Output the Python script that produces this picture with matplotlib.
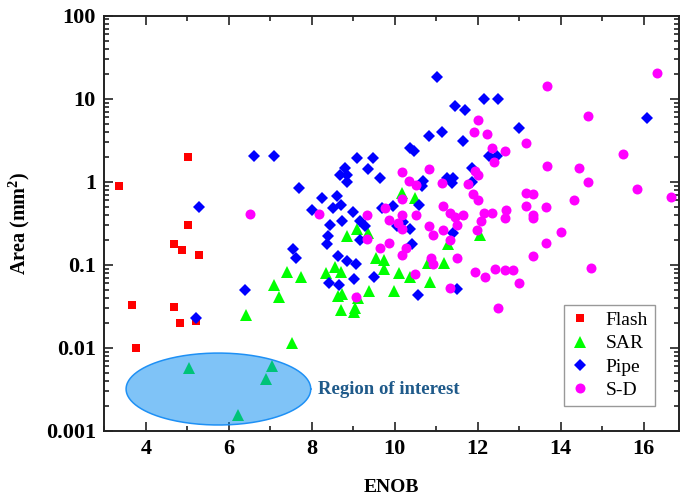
import numpy as np
import matplotlib
matplotlib.use("Agg")
import matplotlib.pyplot as plt
from matplotlib.ticker import FixedLocator, FixedFormatter, LogLocator, NullFormatter

plt.rcParams['font.family'] = ['Liberation Serif', 'DejaVu Serif']
plt.rcParams['mathtext.fontset'] = 'custom'
plt.rcParams['mathtext.rm'] = 'Liberation Serif'
plt.rcParams['mathtext.bf'] = 'Liberation Serif:bold'

# ADC survey: effective number of bits vs. core area (mm^2)
flash_enob = [3.36, 5.02, 5.02, 4.67, 4.87, 5.29, 3.66, 4.67, 4.83, 5.20, 3.77]
flash_area = [0.88, 2.0, 0.30, 0.18, 0.15, 0.13, 0.033, 0.031, 0.020, 0.021, 0.010]

sar_enob = [5.03, 7.05, 6.89, 6.23, 6.42, 7.09, 7.20, 7.40, 7.73, 7.52,
            8.34, 8.56, 8.71, 8.64, 8.72, 8.71, 8.84, 9.04, 9.02, 9.08,
            9.36, 9.39, 9.55, 9.73, 9.74, 9.99, 10.11, 10.37, 10.85, 10.81,
            11.19, 10.17, 10.49, 11.29, 12.06, 9.12]
sar_area = [0.0058, 0.0060, 0.0042, 0.00156, 0.025, 0.058, 0.041, 0.082, 0.072, 0.0116,
            0.079, 0.095, 0.082, 0.042, 0.044, 0.029, 0.22, 0.030, 0.027, 0.27,
            0.243, 0.049, 0.122, 0.114, 0.090, 0.048, 0.080, 0.071, 0.063, 0.104,
            0.104, 0.74, 0.64, 0.176, 0.23, 0.040]

pipe_enob = [5.29, 5.20, 6.40, 6.61, 7.09, 7.55, 7.62, 7.69, 8.01, 8.24,
             8.62, 8.52, 8.70, 8.44, 8.74, 8.40, 8.36, 8.68, 8.86, 8.84,
             8.79, 9.10, 9.48, 9.36, 9.65, 9.00, 9.16, 9.28, 9.16, 9.69,
             9.95, 10.59, 10.05, 10.21, 10.37, 10.41, 10.37, 10.47, 10.69, 10.65,
             8.64, 8.84, 9.07, 9.51, 9.02, 8.42, 8.66, 10.55, 11.01, 11.45,
             11.70, 12.16, 12.50, 13.0, 16.09, 10.83, 11.14, 11.65, 12.28, 12.46,
             11.86, 11.25, 11.41, 11.37, 11.86, 11.40, 11.51]
pipe_area = [0.50, 0.023, 0.050, 2.03, 2.03, 0.155, 0.122, 0.85, 0.46, 0.64,
             0.68, 0.49, 0.52, 0.30, 0.34, 0.22, 0.18, 1.22, 1.22, 1.0,
             1.47, 1.91, 1.94, 1.41, 1.12, 0.43, 0.336, 0.29, 0.20, 0.49,
             0.51, 0.53, 0.29, 0.33, 0.27, 0.176, 2.57, 2.33, 1.02, 0.885,
             0.127, 0.111, 0.103, 0.071, 0.067, 0.060, 0.058, 0.043, 18.1, 8.1,
             7.4, 10.0, 10.0, 4.5, 5.9, 3.6, 4.0, 3.08, 2.03, 2.03,
             1.47, 1.12, 1.12, 0.97, 0.99, 0.243, 0.051]

sd_enob = [6.51, 8.18, 10.17, 10.83, 10.35, 10.51, 10.17, 9.77, 9.34, 9.85,
           10.17, 10.51, 10.09, 10.17, 10.83, 10.93, 9.34, 9.65, 9.85, 10.27,
           10.17, 10.87, 10.92, 10.49, 9.07, 12.34, 12.66, 13.16, 12.39, 13.66,
           14.45, 11.93, 12.01, 11.13, 11.77, 11.88, 12.0, 13.16, 13.34, 14.32,
           11.16, 13.16, 13.65, 12.68, 12.66, 11.32, 11.45, 11.65, 12.15, 12.34,
           12.07, 11.51, 13.33, 13.33, 11.16, 11.99, 11.33, 14.0, 13.65, 13.33,
           11.49, 11.93, 12.18, 12.42, 12.66, 12.86, 12.99, 11.33, 12.50, 16.33,
           13.66, 14.65, 12.0, 11.92, 12.23, 15.49, 14.65, 15.83, 16.65, 14.72]
sd_area = [0.41, 0.41, 1.32, 1.43, 1.02, 0.91, 0.62, 0.49, 0.40, 0.345,
           0.40, 0.40, 0.32, 0.27, 0.29, 0.23, 0.206, 0.16, 0.185, 0.16,
           0.133, 0.122, 0.103, 0.078, 0.041, 2.57, 2.38, 2.95, 1.72, 1.54,
           1.47, 1.34, 1.22, 0.97, 0.93, 0.72, 0.61, 0.74, 0.72, 0.61,
           0.51, 0.51, 0.50, 0.46, 0.37, 0.42, 0.38, 0.40, 0.42, 0.42,
           0.336, 0.30, 0.40, 0.37, 0.26, 0.26, 0.20, 0.25, 0.185, 0.127,
           0.122, 0.082, 0.072, 0.090, 0.086, 0.086, 0.061, 0.052, 0.030, 20.5,
           14.1, 6.2, 5.6, 4.0, 3.8, 2.19, 1.0, 0.83, 0.66, 0.091]

series_labels = ["Flash", "SAR", "Pipe", "S-D"]

y_ticks = [0.001, 0.01, 0.1, 1, 10, 100]
y_tick_labels = ["0.001", "0.01", "0.1", "1", "10", "100"]
x_ticks = [4, 6, 8, 10, 12, 14, 16]
x_tick_labels = ["4", "6", "8", "10", "12", "14", "16"]

# highlighted low-area region (centre ENOB, centre area, half-width in ENOB, half-height in decades)
roi_enob, roi_area, roi_half_w, roi_half_dec = 5.75, 0.0032, 2.225, 0.433
roi_text = "Region of interest"

fig = plt.figure(figsize=(6.8, 4.99), dpi=100)
ax = fig.add_axes([0.1534, 0.1363, 0.8451, 0.8323])

ax.plot(flash_enob, flash_area, 's', color='#ff0000', ms=6.0, mew=0, label=series_labels[0], zorder=3)
ax.plot(sar_enob, sar_area, '^', color='#00ff00', ms=8.0, mew=0, label=series_labels[1], zorder=3)
ax.plot(pipe_enob, pipe_area, 'D', color='#0000ff', ms=5.8, mew=0, label=series_labels[2], zorder=3)
ax.plot(sd_enob, sd_area, 'o', color='#ff00ff', ms=7.2, mew=0, label=series_labels[3], zorder=3)

# translucent ellipse, uniform in ENOB and in log(area)
t = np.linspace(0, 2 * np.pi, 300)
ex = roi_enob + roi_half_w * np.cos(t)
ey = 10 ** (np.log10(roi_area) + roi_half_dec * np.sin(t))
ax.fill(ex, ey, color='#0089f1', alpha=0.5, lw=0, zorder=4)
ax.plot(ex, ey, color='#1e90f5', lw=1.1, zorder=4)
ax.text(8.15, roi_area, roi_text, color='#1f5a8a', fontsize=13.5,
        fontweight='bold', va='center', ha='left', zorder=5)

ax.set_xscale('linear')
ax.set_yscale('log')
ax.set_xlim(3, 16.85)
ax.set_ylim(0.001, 100)

ax.xaxis.set_major_locator(FixedLocator(x_ticks))
ax.xaxis.set_major_formatter(FixedFormatter(x_tick_labels))
ax.xaxis.set_minor_locator(FixedLocator([3, 5, 7, 9, 11, 13, 15]))
ax.yaxis.set_major_locator(FixedLocator(y_ticks))
ax.yaxis.set_major_formatter(FixedFormatter(y_tick_labels))
ax.yaxis.set_minor_locator(LogLocator(base=10, subs=np.arange(2, 10)))
ax.yaxis.set_minor_formatter(NullFormatter())

ax.tick_params(which='both', direction='in', top=True, right=True, width=1.2, color='#222222')
ax.tick_params(which='major', length=6.5, pad=6)
ax.tick_params(which='minor', length=3.5)
for lab in ax.get_xticklabels() + ax.get_yticklabels():
    lab.set_fontsize(16)
    lab.set_fontweight('bold')
for sp in ax.spines.values():
    sp.set_linewidth(1.4)
    sp.set_color('#222222')

ax.set_xlabel("ENOB", fontsize=14, fontweight='bold', labelpad=14)
ax.set_ylabel(r"Area (mm$^\mathbf{2}$)", fontsize=14.5, fontweight='bold', labelpad=10)

leg = ax.legend(loc='lower right', bbox_to_anchor=(0.958, 0.06), fancybox=False,
                frameon=True, fontsize=14, handlelength=1.0, handletextpad=0.8,
                labelspacing=0.3, borderpad=0.35, borderaxespad=0.0)
leg.get_frame().set_edgecolor('#808080')
leg.get_frame().set_linewidth(1.0)

fig.savefig("out.png", dpi=100)
